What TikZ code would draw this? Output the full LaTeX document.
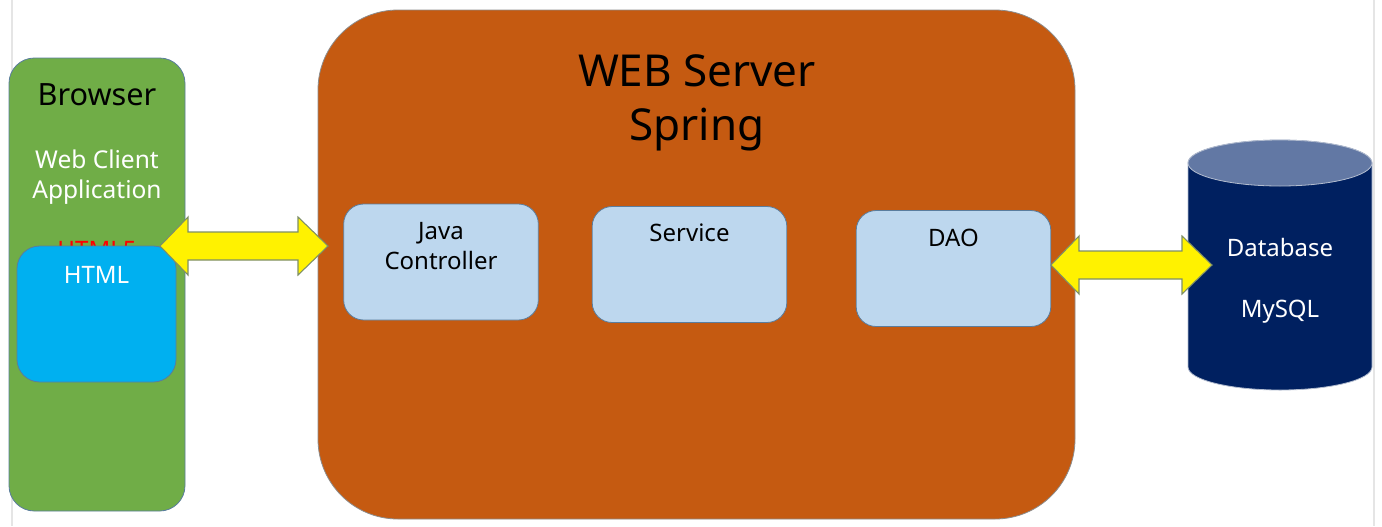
\documentclass[tikz,border=0pt]{standalone}
\usepackage{fontspec}
\setmainfont{Noto Sans}
\usetikzlibrary{calc}

\definecolor{browsergreen}{HTML}{70AD47}
\definecolor{htmlcyan}{HTML}{00B0F0}
\definecolor{serverorange}{HTML}{C55A11}
\definecolor{layerblue}{HTML}{BDD7EE}
\definecolor{dbnavy}{HTML}{002060}
\definecolor{dbtop}{HTML}{6278A4}
\definecolor{edgeblue}{HTML}{5A7D9E}
\definecolor{arrowedge}{HTML}{7E8F66}

\tikzset{
  box/.style={draw=edgeblue, line width=0.6pt, rounded corners=15pt, fill=layerblue,
    minimum width=146pt, minimum height=87pt, inner sep=0pt},
  label/.style={anchor=base, inner sep=0pt, font=\fontsize{18}{20}\selectfont},
  yarrow/.style={draw=arrowedge, line width=0.8pt, fill=yellow, line join=miter},
}
% double arrow between two named tips
\def\dblarrow(#1)(#2){\draw[yarrow] (#1) -- ($(#1)+(28,-29)$) -- ($(#1)+(28,-14)$) -- ($(#2)+(-30,-14)$)
  -- ($(#2)+(-30,-29)$) -- (#2) -- ($(#2)+(-30,29)$) -- ($(#2)+(-30,14)$) -- ($(#1)+(28,14)$)
  -- ($(#1)+(28,29)$) -- cycle;}

\begin{document}
\begin{tikzpicture}[x=0.75pt, y=-0.75pt]
  %%%%% frame %%%%%
  \useasboundingbox[fill=white] (0,0) rectangle (1382,526);
  \draw[black!10, line width=1pt] (12,0) -- (12,526);
  \draw[black!10, line width=1pt] (1374,0) -- (1374,526);

  %%%%% browser %%%%%
  \node[draw=edgeblue, line width=0.6pt, fill=browsergreen, rounded corners=19pt,
    minimum width=132pt, minimum height=339.75pt, inner sep=0pt] (browser) at (97,284.5) {};
  \node[anchor=base, inner sep=0pt, font=\fontsize{23}{26}\selectfont] (browsertitle) at (97,105) {Browser};
  \node[label, white, font=\fontsize{18.4}{20}\selectfont] (webclient) at (97,168) {Web Client};
  \node[label, white, font=\fontsize{18.4}{20}\selectfont] (application) at (97,198) {Application};
  \node[label, red] (htmlfive) at (97,258) {HTML5};

  \node[draw=edgeblue, line width=0.6pt, fill=htmlcyan, rounded corners=17pt,
    minimum width=119.25pt, minimum height=102pt, inner sep=0pt] (html) at (96.5,314) {};
  \node[label, white] (htmltext) at (96.5,283) {HTML};

  %%%%% web server %%%%%
  \node[draw=black!45, line width=0.6pt, fill=serverorange, rounded corners=60pt,
    minimum width=567.75pt, minimum height=381.75pt, inner sep=0pt] (server) at (696.5,264.5) {};
  \node[anchor=base, inner sep=0pt, font=\fontsize{33}{36}\selectfont] (servertitle) at (697,86) {WEB Server};
  \node[anchor=base, inner sep=0pt, font=\fontsize{33}{36}\selectfont] (spring) at (697,140) {Spring};

  \node[box] (controller) at (441,262) {};
  \node[label] (javatext) at (441,239.5) {Java};
  \node[label] (controllertext) at (441,269) {Controller};

  \node[box] (service) at (689.5,264.5) {};
  \node[label] (servicetext) at (689.5,241.5) {Service};

  \node[box] (dao) at (953.5,268.5) {};
  \node[label] (daotext) at (953.5,246.5) {DAO};

  %%%%% database %%%%%
  \draw[draw=white!70!dbnavy, line width=0.6pt, fill=dbnavy] (1188,163) -- (1188,367)
    arc[start angle=180, end angle=360, x radius=69pt, y radius=17.25pt] -- (1372,163)
    arc[start angle=0, end angle=180, x radius=69pt, y radius=17.25pt] -- cycle;
  \draw[draw=white!70!dbnavy, line width=0.6pt, fill=dbtop] (1280,163) ellipse [x radius=69pt, y radius=17.25pt];
  \node[label, white] (dbtext) at (1280,256) {Database};
  \node[label, white] (mysqltext) at (1280,317) {MySQL};

  %%%%% arrows %%%%%
  \coordinate (clienttip) at (160,246);
  \coordinate (servertip) at (328,246);
  \dblarrow(clienttip)(servertip)
  \coordinate (daotip) at (1051,265);
  \coordinate (dbtip) at (1212,265);
  \dblarrow(daotip)(dbtip)
\end{tikzpicture}
\end{document}
